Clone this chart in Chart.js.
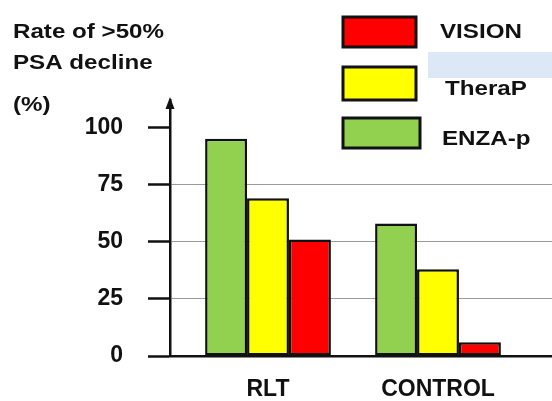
<!DOCTYPE html>
<html>
<head>
<meta charset="utf-8">
<script src="https://cdn.jsdelivr.net/npm/chart.js@4/dist/chart.umd.min.js"></script>
<style>
  html, body { margin: 0; padding: 0; background: #fff; }
  #wrap { width: 552px; height: 401px; }
</style>
</head>
<body>
<div id="wrap"><canvas id="chart" width="552" height="401"></canvas></div>
<script>
// groups along the x axis
const categories = ['RLT', 'CONTROL'];
// bar values per trial (%)
const enzaValues = [95, 58];
const therapValues = [69, 38];
const visionValues = [51, 6];
const yTickValues = [0, 25, 50, 75, 100];
const titleLines = ['Rate of >50%', 'PSA decline', '(%)'];

const FONT = '"Liberation Sans", Arial, sans-serif';
const INK = '#111';

const toPoints = vals => vals.map((v, i) => ({ x: i, y: v }));

// Legend boxes + labels sit at fixed spots, like in the original slide
const legendSpots = {
    'VISION': { box: [343, 17, 73, 30], text: [440, 38] },
    'TheraP': { box: [343, 67, 73, 33], text: [445, 95] },
    'ENZA-p': { box: [343, 118, 77, 30], text: [442, 145] }
};

// the slide text looks a bit stretched sideways
function wideText(ctx, str, x, y) {
    ctx.save();
    ctx.translate(x, y);
    ctx.scale(1.15, 1);
    ctx.fillText(str, 0, 0);
    ctx.restore();
}

const decorations = {
    id: 'decorations',
    beforeDraw(chart) {
        const ctx = chart.ctx;
        ctx.save();
        ctx.fillStyle = '#dce8f5';
        ctx.fillRect(428, 52, 124, 26);
        ctx.restore();
    },
    afterDraw(chart) {
        const { ctx, chartArea } = chart;
        ctx.save();
        ctx.fillStyle = INK;
        ctx.font = 'bold 21px ' + FONT;
        ctx.textBaseline = 'alphabetic';
        [38, 69, 111].forEach((y, i) => wideText(ctx, titleLines[i], 13, y));

        // arrow head on top of the y axis
        const x = chartArea.left;
        ctx.beginPath();
        ctx.moveTo(x, chartArea.top - 3);
        ctx.lineTo(x - 4.5, chartArea.top + 9);
        ctx.lineTo(x + 4.5, chartArea.top + 9);
        ctx.closePath();
        ctx.fill();

        // legend
        chart.data.datasets.forEach(ds => {
            const spot = legendSpots[ds.label];
            if (!spot) return;
            const [bx, by, bw, bh] = spot.box;
            ctx.fillStyle = ds.backgroundColor;
            ctx.fillRect(bx, by, bw, bh);
            ctx.lineWidth = 3;
            ctx.strokeStyle = INK;
            ctx.strokeRect(bx, by, bw, bh);
            ctx.fillStyle = INK;
            wideText(ctx, ds.label, spot.text[0], spot.text[1]);
        });
        ctx.restore();
    }
};

const barStyle = {
    borderColor: INK,
    borderWidth: 2.5,
    borderSkipped: false,
    categoryPercentage: 0.74,
    barPercentage: 1
};

new Chart(document.getElementById('chart').getContext('2d'), {
    type: 'bar',
    data: {
        datasets: [
            { label: 'ENZA-p', data: toPoints(enzaValues), backgroundColor: '#92d050', ...barStyle },
            { label: 'TheraP', data: toPoints(therapValues), backgroundColor: '#ffff00', ...barStyle },
            { label: 'VISION', data: toPoints(visionValues), backgroundColor: '#ff0000', ...barStyle }
        ]
    },
    options: {
        responsive: false,
        animation: false,
        layout: { padding: { top: 100, left: 0, right: 0, bottom: 0 } },
        plugins: {
            legend: { display: false },
            tooltip: { enabled: false }
        },
        scales: {
            x: {
                type: 'linear',
                offset: false,
                min: -0.5765,
                max: 1.6706,
                afterFit: s => { s.height = 45; },
                afterBuildTicks: s => { s.ticks = categories.map((c, i) => ({ value: i })); },
                grid: { display: false, drawTicks: false, offset: false },
                border: { display: true, color: INK, width: 2.5 },
                ticks: {
                    padding: 20,
                    color: INK,
                    font: { family: FONT, size: 23, weight: 'bold' },
                    callback: v => categories[v]
                }
            },
            y: {
                min: 0,
                max: 112,
                afterFit: s => { s.width = 170; },
                afterBuildTicks: s => { s.ticks = yTickValues.map(v => ({ value: v })); },
                grid: {
                    color: c => (c.tick && c.tick.value > 0 && c.tick.value < 100) ? '#9a9a9a' : 'rgba(0,0,0,0)',
                    lineWidth: 1,
                    drawTicks: true,
                    tickLength: 22,
                    tickColor: INK,
                    tickWidth: 2.5
                },
                border: { display: true, color: INK, width: 2.5 },
                ticks: {
                    padding: 25,
                    color: INK,
                    font: { family: FONT, size: 23, weight: 'bold' }
                }
            }
        }
    },
    plugins: [decorations]
});
</script>
</body>
</html>
